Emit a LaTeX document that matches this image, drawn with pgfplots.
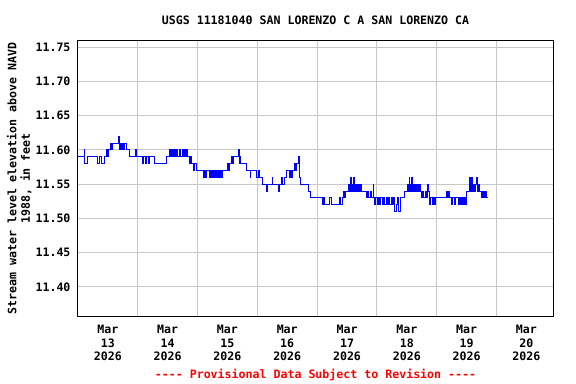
\documentclass[border=0pt]{standalone}
\usepackage{fontspec}
\setmainfont{DejaVu Sans Mono}
\usepackage{pgfplots}
\pgfplotsset{compat=1.18}
\definecolor{gridgray}{RGB}{200,200,200}
\newcommand{\lf}{\bfseries\fontsize{11.6bp}{13.5bp}\selectfont}
\begin{document}
\begin{tikzpicture}
\path[use as bounding box] (-78bp,-68bp) rectangle (498bp,316bp);
\begin{axis}[
  name=ax,
  at={(0,0)}, anchor=south west,
  scale only axis, width=475bp, height=275bp,
  xmin=0, xmax=190.7, ymin=11.3577, ymax=11.7588,
  font=\lf,
  axis line style={black, line width=1bp},
  xtick={12,36,60,84,108,132,156,180},
  xticklabels={{Mar\\13\\2026},{Mar\\14\\2026},{Mar\\15\\2026},{Mar\\16\\2026},{Mar\\17\\2026},{Mar\\18\\2026},{Mar\\19\\2026},{Mar\\20\\2026}},
  xticklabel style={align=center, font=\lf, yshift=-6bp},
  minor xtick={24,48,72,96,120,144,168},
  xminorgrids=true,
  ytick={11.40,11.45,11.50,11.55,11.60,11.65,11.70,11.75},
  ymajorgrids=true,
  major tick length=0pt, minor tick length=0pt,
  grid style={gridgray, line width=1bp},
  minor grid style={gridgray, line width=1bp},
  yticklabel style={font=\lf, xshift=-4bp, /pgf/number format/.cd, fixed, fixed zerofill, precision=2, assume math mode=true},
  ylabel={Stream water level elevation above NAVD\\1988, in feet},
  ylabel style={at={(axis description cs:-0.124,0.5)}, anchor=center, align=center, font=\lf},
  title={USGS 11181040 SAN LORENZO C A SAN LORENZO CA},
  title style={at={(axis description cs:0.5,1)}, anchor=center, yshift=15bp, font=\lf},
]
\addplot[const plot, blue, line width=1bp] coordinates {
(0,11.59) (2.57,11.60) (2.81,11.58) (3.78,11.59) (7.80,11.58) (8.60,11.59) (9.41,11.58) (10.61,11.59)
(11.42,11.60) (11.9,11.59) (12.4,11.60) (13.02,11.61) (13.4,11.60) (13.83,11.61) (16.44,11.62) (16.64,11.60)
(17.1,11.61) (17.5,11.60) (17.85,11.61) (18.3,11.60) (18.8,11.61) (19.3,11.60) (20.66,11.59) (23.08,11.60)
(23.32,11.59) (25.89,11.58) (26.4,11.59) (27.0,11.58) (27.6,11.59) (28.2,11.58) (28.70,11.59) (30.71,11.58)
(35.54,11.59) (36.74,11.60) (37.0,11.59) (37.25,11.60) (37.5,11.59) (37.75,11.60) (38.0,11.59) (38.25,11.60)
(38.5,11.59) (38.75,11.60) (39.0,11.59) (39.25,11.60) (39.5,11.59) (39.7,11.60)
(39.95,11.59) (40.9,11.60) (41.1,11.59) (41.85,11.60) (42.1,11.59) (42.35,11.60) (42.6,11.59) (42.85,11.60)
(43.1,11.59) (43.35,11.60) (43.6,11.59) (43.85,11.60)
(44.10,11.59) (44.78,11.58) (45.2,11.59) (45.59,11.58) (46.3,11.57) (46.7,11.58) (47.60,11.57) (50.41,11.56)
(50.9,11.57) (51.3,11.56) (51.62,11.57) (52.82,11.56) (53.1,11.57) (53.35,11.56) (53.6,11.57) (53.85,11.56)
(54.1,11.57) (54.35,11.56) (54.6,11.57) (54.85,11.56) (55.1,11.57) (55.35,11.56) (55.6,11.57) (55.85,11.56)
(56.1,11.57) (56.35,11.56) (56.6,11.57) (56.85,11.56) (57.1,11.57) (57.35,11.56) (57.6,11.57) (57.8,11.56)
(58.05,11.57) (60.06,11.58)
(60.5,11.57) (61.0,11.58) (61.5,11.59) (62.07,11.58) (62.5,11.59) (64.60,11.60) (64.80,11.58) (65.1,11.59)
(65.3,11.58) (67.70,11.57) (69.19,11.56) (69.4,11.57) (71.72,11.56) (72.5,11.57) (72.8,11.56) (74.13,11.55)
(75.86,11.54) (76.06,11.55) (78.03,11.56) (78.23,11.55) (80.68,11.54) (80.88,11.55) (81.5,11.56) (82.0,11.55)
(82.97,11.56) (83.90,11.57) (84.99,11.56) (85.4,11.57) (85.8,11.56) (86.31,11.57) (86.8,11.58) (87.3,11.57)
(87.8,11.58) (88.72,11.59) (88.92,11.56) (89.29,11.55) (92.34,11.54) (93.43,11.53) (98.13,11.52) (98.6,11.53)
(99.06,11.52) (100.78,11.53) (101.75,11.52) (105.09,11.53) (105.5,11.52) (106.0,11.53) (106.41,11.54) (106.9,11.53)
(107.3,11.54) (108.42,11.55) (108.7,11.54) (109.0,11.55) (109.25,11.54) (109.51,11.56) (109.7,11.55) (109.95,11.54)
(110.2,11.55) (110.45,11.54) (110.71,11.56) (110.9,11.54) (111.15,11.55) (111.4,11.54) (111.65,11.55) (111.9,11.54)
(112.15,11.55) (112.4,11.54) (112.65,11.55) (112.9,11.54) (113.15,11.55) (113.4,11.54) (113.65,11.55) (113.9,11.54)
(115.82,11.53) (116.3,11.54) (116.8,11.53) (117.3,11.54) (117.8,11.53) (118.47,11.55) (118.67,11.53) (119.1,11.52)
(119.6,11.53) (120.1,11.52) (120.6,11.53) (121.1,11.52) (121.6,11.53) (122.1,11.52) (122.6,11.53) (123.18,11.52)
(123.7,11.53) (124.2,11.52) (124.7,11.53) (125.2,11.52) (125.7,11.53) (126.2,11.52) (126.7,11.53) (127.20,11.51)
(128.00,11.52) (128.4,11.53) (128.81,11.51) (129.49,11.53) (131.22,11.54) (132.14,11.55) (132.5,11.54) (132.95,11.56)
(133.15,11.55) (133.5,11.54) (133.91,11.56) (134.1,11.55) (134.35,11.54) (134.6,11.55) (134.85,11.54) (135.1,11.55)
(135.35,11.54) (135.6,11.55) (135.85,11.54) (136.1,11.55) (136.35,11.54) (136.6,11.55) (136.85,11.54) (137.1,11.55)
(137.5,11.54) (137.93,11.53) (138.4,11.54) (138.9,11.53) (139.4,11.54) (139.9,11.53)
(140.4,11.55) (140.6,11.54) (141.27,11.52) (141.7,11.53) (142.2,11.52) (142.7,11.53) (143.2,11.52) (143.6,11.53)
(147.98,11.54) (148.4,11.53) (148.8,11.54) (149.31,11.53) (149.99,11.52) (150.5,11.53) (151.3,11.52) (151.6,11.53)
(152.64,11.52) (152.9,11.53) (153.15,11.52) (153.4,11.53) (153.65,11.52) (153.9,11.53) (154.15,11.52) (154.4,11.53)
(154.65,11.52) (154.9,11.53) (155.15,11.52) (155.4,11.53) (155.65,11.52) (156.02,11.54)
(157.06,11.55) (157.35,11.56) (157.55,11.54) (158.03,11.56) (158.23,11.55) (158.5,11.54) (158.75,11.55) (159.0,11.54)
(159.25,11.55) (159.5,11.54) (159.75,11.55)
(160.04,11.56) (160.24,11.55) (160.5,11.54) (160.75,11.55) (161.0,11.54) (162.05,11.53) (162.3,11.54) (162.55,11.53)
(162.8,11.54) (163.05,11.53) (163.3,11.54) (163.55,11.53) (163.8,11.54) (164.05,11.53)
(164.70,11.53)
};
\end{axis}
\node[red, font=\lf, yshift=-59bp] at (ax.south) {-{}-{}-{}- Provisional Data Subject to Revision -{}-{}-{}-};
\end{tikzpicture}
\end{document}
